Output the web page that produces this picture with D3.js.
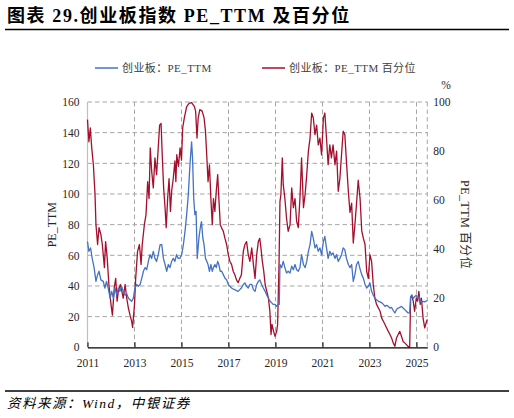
<!DOCTYPE html>
<html>
<head>
<meta charset="utf-8">
<script src="https://cdn.jsdelivr.net/npm/d3@7/dist/d3.min.js"></script>
<style>
  body { margin: 0; background: #fff; }
  svg { display: block; }
  .serif { font-family: "Liberation Serif", "Noto Sans CJK SC", serif; }
</style>
</head>
<body>
<div id="chart"></div>
<script>
// 创业板 PE_TTM (left axis)
const peDates = [
  2011.00, 2011.06, 2011.13, 2011.20, 2011.28, 2011.36, 2011.43, 2011.49, 2011.57, 2011.67,
  2011.74, 2011.81, 2011.88, 2011.96, 2012.03, 2012.10, 2012.17, 2012.24, 2012.31, 2012.38,
  2012.45, 2012.52, 2012.60, 2012.67, 2012.74, 2012.81, 2012.88, 2012.95, 2013.02, 2013.09,
  2013.16, 2013.24, 2013.31, 2013.38, 2013.45, 2013.52, 2013.59, 2013.66, 2013.73, 2013.80,
  2013.87, 2013.94, 2014.01, 2014.09, 2014.16, 2014.23, 2014.30, 2014.37, 2014.44, 2014.51,
  2014.58, 2014.65, 2014.72, 2014.79, 2014.86, 2014.93, 2015.01, 2015.08, 2015.15, 2015.22,
  2015.29, 2015.36, 2015.43, 2015.47, 2015.52, 2015.57, 2015.62, 2015.67, 2015.74, 2015.80,
  2015.85, 2015.91, 2015.96, 2016.02, 2016.08, 2016.13, 2016.19, 2016.25, 2016.31, 2016.36,
  2016.42, 2016.48, 2016.54, 2016.59, 2016.65, 2016.71, 2016.78, 2016.85, 2016.92, 2016.99,
  2017.06, 2017.13, 2017.20, 2017.27, 2017.34, 2017.41, 2017.48, 2017.55, 2017.63, 2017.70,
  2017.77, 2017.84, 2017.91, 2017.99, 2018.06, 2018.13, 2018.20, 2018.27, 2018.33, 2018.41,
  2018.48, 2018.56, 2018.63, 2018.70, 2018.77, 2018.84, 2018.90, 2018.98, 2019.05, 2019.12,
  2019.16, 2019.19, 2019.26, 2019.33, 2019.40, 2019.47, 2019.54, 2019.62, 2019.69, 2019.76,
  2019.83, 2019.90, 2019.97, 2020.04, 2020.11, 2020.19, 2020.26, 2020.33, 2020.40, 2020.47,
  2020.54, 2020.61, 2020.68, 2020.75, 2020.82, 2020.89, 2020.96, 2021.04, 2021.10, 2021.17,
  2021.24, 2021.31, 2021.38, 2021.45, 2021.53, 2021.60, 2021.67, 2021.74, 2021.81, 2021.88,
  2021.95, 2022.02, 2022.10, 2022.17, 2022.24, 2022.31, 2022.38, 2022.45, 2022.52, 2022.60,
  2022.67, 2022.74, 2022.81, 2022.88, 2022.95, 2023.02, 2023.09, 2023.16, 2023.23, 2023.30,
  2023.38, 2023.45, 2023.52, 2023.59, 2023.66, 2023.73, 2023.80, 2023.87, 2023.94, 2024.01,
  2024.08, 2024.15, 2024.22, 2024.29, 2024.36, 2024.43, 2024.50, 2024.57, 2024.64, 2024.71,
  2024.75, 2024.80, 2024.86, 2024.92, 2024.99, 2025.05, 2025.10, 2025.16, 2025.21, 2025.28,
  2025.35, 2025.43, 2025.46
];
const peValues = [
  69, 62.6, 64.8, 58, 52, 43, 47.4, 49.6, 44, 43,
  38.7, 43, 38.7, 32, 36.5, 32, 38.7, 34, 38.7, 36.5,
  39.8, 36.5, 34, 35, 32, 31, 30, 32, 38.7, 41,
  39.8, 41, 45, 49.6, 52, 50.6, 56, 60.4, 58, 62.6,
  58, 56, 60.4, 67, 67, 58, 54, 49.6, 54, 52,
  56, 58, 56, 60.4, 58, 58, 60.4, 67, 75.6, 86.5,
  99.6, 119, 134, 123.5, 97, 86.5, 88.7, 58, 71, 78,
  82, 71, 67, 58, 56, 54, 49.6, 54, 49.6, 52,
  54, 52, 56, 54, 49.6, 49.6, 47.4, 45, 44, 41,
  39.8, 38.7, 38, 37.6, 37, 36.5, 37.6, 38.7, 41, 42,
  39.8, 38.7, 41, 41, 37.6, 36.5, 41, 43, 44, 41,
  38.7, 36.5, 34, 32, 30, 29, 28, 28, 26.7, 28,
  28, 54, 52, 56, 52, 48.5, 49.6, 48.5, 53, 50.6,
  54, 50.6, 49.6, 52, 60.4, 54, 52, 56, 62.6, 67,
  75.6, 71, 64.8, 67, 62.6, 64.8, 60.4, 69, 72.4, 64.8,
  58, 62.6, 60.4, 61.5, 58, 60.4, 56, 58, 60.4, 64.8,
  63.7, 58, 54, 52, 54, 43, 47.4, 54, 56, 51,
  47.4, 45, 41, 38.7, 39.8, 42, 36.5, 34, 32, 31,
  30, 29.6, 29, 28, 26.7, 27.4, 26.7, 25.6, 26, 24,
  22.4, 24.6, 25.6, 26, 26.7, 25.6, 24.6, 23.5, 22.4, 22.4,
  33, 34, 32, 33, 34, 32, 33, 31, 29, 30,
  29.6, 30.4, 30.4
];

// 创业板 PE_TTM 百分位 (right axis, %)
const pctDates = [
  2011.00, 2011.06, 2011.12, 2011.18, 2011.25, 2011.32, 2011.36, 2011.43, 2011.49, 2011.57,
  2011.63, 2011.72, 2011.77, 2011.83, 2011.91, 2012.00, 2012.06, 2012.14, 2012.20, 2012.26,
  2012.31, 2012.40, 2012.45, 2012.52, 2012.60, 2012.67, 2012.74, 2012.81, 2012.88, 2012.92,
  2013.00, 2013.05, 2013.13, 2013.21, 2013.28, 2013.33, 2013.42, 2013.49, 2013.56, 2013.62,
  2013.67, 2013.73, 2013.80, 2013.87, 2013.94, 2014.01, 2014.07, 2014.13, 2014.18, 2014.24,
  2014.30, 2014.35, 2014.41, 2014.47, 2014.53, 2014.58, 2014.65, 2014.72, 2014.76, 2014.80,
  2014.87, 2014.94, 2015.00, 2015.05, 2015.12, 2015.22, 2015.32, 2015.43, 2015.55, 2015.60,
  2015.66, 2015.71, 2015.78, 2015.88, 2015.96, 2016.02, 2016.08, 2016.13, 2016.19, 2016.25,
  2016.31, 2016.36, 2016.42, 2016.48, 2016.54, 2016.59, 2016.65, 2016.71, 2016.78, 2016.85,
  2016.92, 2016.99, 2017.06, 2017.13, 2017.20, 2017.27, 2017.34, 2017.41, 2017.48, 2017.55,
  2017.63, 2017.70, 2017.77, 2017.84, 2017.91, 2017.99, 2018.06, 2018.13, 2018.20, 2018.27,
  2018.33, 2018.38, 2018.44, 2018.50, 2018.56, 2018.63, 2018.70, 2018.76, 2018.81, 2018.85,
  2018.92, 2018.98, 2019.05, 2019.09, 2019.15, 2019.19, 2019.23, 2019.29, 2019.33, 2019.40,
  2019.47, 2019.54, 2019.62, 2019.69, 2019.76, 2019.83, 2019.90, 2019.97, 2020.04, 2020.11,
  2020.19, 2020.26, 2020.33, 2020.40, 2020.47, 2020.54, 2020.61, 2020.68, 2020.75, 2020.82,
  2020.89, 2020.96, 2021.04, 2021.10, 2021.17, 2021.24, 2021.31, 2021.38, 2021.45, 2021.53,
  2021.60, 2021.67, 2021.74, 2021.81, 2021.88, 2021.95, 2022.02, 2022.10, 2022.17, 2022.24,
  2022.31, 2022.38, 2022.45, 2022.52, 2022.60, 2022.67, 2022.74, 2022.81, 2022.88, 2022.95,
  2023.02, 2023.09, 2023.16, 2023.23, 2023.30, 2023.38, 2023.45, 2023.52, 2023.59, 2023.66,
  2023.73, 2023.80, 2023.87, 2023.94, 2024.01, 2024.08, 2024.15, 2024.22, 2024.29, 2024.36,
  2024.43, 2024.50, 2024.57, 2024.64, 2024.71, 2024.75, 2024.80, 2024.86, 2024.92, 2024.99,
  2025.05, 2025.10, 2025.16, 2025.21, 2025.28, 2025.35, 2025.43, 2025.46
];
const pctValues = [
  92.8, 83.8, 89.4, 81.3, 74.4, 62.3, 50, 41.9, 48.8, 45.9,
  41.9, 32.5, 43.1, 37.5, 25.6, 17.5, 13.1, 24.4, 28.1, 18.8,
  22.8, 25.6, 23.5, 20, 25.6, 20, 16, 13.1, 10.6, 8.1,
  17.5, 28.1, 39.1, 41.9, 33.8, 41.9, 50, 54.1, 67.5, 60.6,
  81.3, 71.9, 65, 77.2, 70.4, 81.3, 90.6, 91.3, 78.5, 65,
  56.9, 48.8, 60.6, 68.8, 55.4, 63.6, 68.8, 76, 67.5, 78.5,
  73.8, 81.3, 76.3, 89.4, 93.5, 98.1, 99.4, 99.7, 98.1, 96.3,
  85.3, 93.5, 96.9, 96.3, 93.5, 88.1, 77.2, 67.5, 74.4, 60.6,
  50, 60.6, 55.4, 63.6, 70.4, 60.6, 50, 48.6, 47.3, 44.4,
  41.9, 37.8, 35, 33.8, 31, 29.6, 27.5, 26.3, 28.1, 29.6,
  39.1, 41.9, 43.1, 37.8, 35, 40.5, 33.8, 28.1, 37.8, 43.1,
  44.4, 40.5, 35, 31, 25.6, 22.8, 20, 14.7, 5.2, 9.3,
  6.5, 4.5, 6.5, 9.3, 33.8, 59.4, 62.3, 77.2, 66.3, 60.6,
  52.5, 47.3, 50, 65, 56.9, 60.6, 51.3, 48.8, 60.6, 77.2,
  56.9, 62.3, 70.4, 80, 85.3, 95.5, 93.5, 86.7, 90.6, 82.5,
  85.3, 78.5, 93.5, 95.5, 85.3, 74.4, 82.5, 77.2, 82.5, 74.4,
  80, 63.6, 68.8, 78.5, 88.1, 86.7, 75.6, 63.6, 55, 58.8,
  42.5, 50, 58.8, 68.1, 60.6, 47.5, 44.4, 41.9, 31, 28.1,
  37.8, 35, 25.6, 20, 17.5, 16, 14.7, 11.9, 10.6, 9.3,
  7.9, 6.5, 5.2, 3.8, 1.8, 0.4, 3.8, 5.2, 6.5, 4.5,
  2.4, 1.8, 1.1, 0.4, 0, 20, 21.3, 18.8, 14.7, 20,
  18.8, 22.8, 17.5, 20, 11.9, 7.9, 10.6, 11.3
];

const yearTicks = [2011, 2013, 2015, 2017, 2019, 2021, 2023, 2025];
const leftTicks = [0, 20, 40, 60, 80, 100, 120, 140, 160];
const rightTicks = [0, 20, 40, 60, 80, 100];

const W = 514, H = 418;
const margin = { left: 87.5, right: 514 - 427.3, top: 102, bottom: 418 - 347.3 };
const x0 = margin.left, x1 = W - margin.right, y0 = H - margin.bottom, y1 = margin.top;

const blue = '#4472c4', red = '#a50f2d', grid = '#a6a6a6', txt = '#262626';

const svg = d3.select('#chart').append('svg')
  .attr('width', W).attr('height', H)
  .attr('class', 'serif');

// title
svg.append('text')
  .attr('x', 7).attr('y', 22)
  .attr('font-size', 18).attr('font-weight', 'bold')
  .attr('letter-spacing', 1.6)
  .attr('fill', '#000')
  .text('图表 29.创业板指数 PE_TTM 及百分位');
svg.append('line')
  .attr('x1', 5).attr('x2', 509).attr('y1', 29.5).attr('y2', 29.5)
  .attr('stroke', '#000').attr('stroke-width', 1.3);

const x = d3.scaleLinear().domain([2011, 2025.46]).range([x0, x1]);
const yL = d3.scaleLinear().domain([0, 160]).range([y0, y1]);
const yR = d3.scaleLinear().domain([0, 100]).range([y0, y1]);

// gridlines
const g = svg.append('g');
g.selectAll('.hg').data(leftTicks.slice(1)).join('line')
  .attr('x1', x0).attr('x2', x1)
  .attr('y1', d => yL(d)).attr('y2', d => yL(d))
  .attr('stroke', grid).attr('stroke-width', 1).attr('stroke-dasharray', '4.5,3');
g.selectAll('.vg').data(yearTicks.slice(1).concat([2025.46])).join('line')
  .attr('x1', d => x(d)).attr('x2', d => x(d))
  .attr('y1', y1).attr('y2', y0)
  .attr('stroke', grid).attr('stroke-width', 1).attr('stroke-dasharray', '4.5,3');

// left axis line
svg.append('line')
  .attr('x1', x0).attr('x2', x0).attr('y1', y1).attr('y2', y0)
  .attr('stroke', '#bfbfbf').attr('stroke-width', 1.2);

// series
const linePE = d3.line().x((d, i) => x(peDates[i])).y(d => yL(d));
const linePct = d3.line().x((d, i) => x(pctDates[i])).y(d => yR(d));

svg.append('path').datum(pctValues)
  .attr('d', linePct).attr('fill', 'none')
  .attr('stroke', red).attr('stroke-width', 1.3).attr('stroke-linejoin', 'round');
svg.append('path').datum(peValues)
  .attr('d', linePE).attr('fill', 'none')
  .attr('stroke', blue).attr('stroke-width', 1.3).attr('stroke-linejoin', 'round');

// bottom axis
const xAxis = d3.axisBottom(x).tickValues(yearTicks).tickFormat(d3.format('d'))
  .tickSizeInner(-5).tickSizeOuter(0).tickPadding(12);
const xa = svg.append('g').attr('transform', `translate(0,${y0})`).call(xAxis);
xa.select('.domain').attr('stroke', '#000').attr('stroke-width', 1.3);
xa.selectAll('.tick line').attr('stroke', '#000');
xa.selectAll('text').attr('font-size', 11.5).attr('fill', txt)
  .attr('font-family', '"Liberation Serif", serif');

// left tick labels
const ya = svg.append('g').attr('transform', `translate(${x0},0)`)
  .call(d3.axisLeft(yL).tickValues(leftTicks).tickSize(0).tickPadding(8));
ya.select('.domain').remove();
ya.selectAll('text').attr('font-size', 11.5).attr('fill', txt)
  .attr('font-family', '"Liberation Serif", serif');

// right tick labels
const yra = svg.append('g').attr('transform', `translate(${x1},0)`)
  .call(d3.axisRight(yR).tickValues(rightTicks).tickSize(0).tickPadding(6));
yra.select('.domain').remove();
yra.selectAll('text').attr('font-size', 11.5).attr('fill', txt)
  .attr('font-family', '"Liberation Serif", serif');

svg.append('text').attr('x', 446).attr('y', 89)
  .attr('text-anchor', 'middle').attr('font-size', 11.5).attr('fill', txt)
  .text('%');

// axis titles
svg.append('text')
  .attr('transform', `translate(56,${(y0 + y1) / 2}) rotate(-90)`)
  .attr('text-anchor', 'middle').attr('font-size', 12).attr('fill', txt)
  .text('PE_TTM');
svg.append('text')
  .attr('transform', `translate(461,${(y0 + y1) / 2}) rotate(90)`)
  .attr('text-anchor', 'middle').attr('font-size', 12).attr('fill', txt)
  .attr('letter-spacing', 0.5)
  .text('PE_TTM 百分位');

// legend
const legend = [
  { label: '创业板：PE_TTM', color: blue, x: 95 },
  { label: '创业板：PE_TTM 百分位', color: red, x: 262 }
];
const lg = svg.append('g').selectAll('g').data(legend).join('g')
  .attr('transform', d => `translate(${d.x},68)`);
lg.append('line').attr('x1', 0).attr('x2', 23).attr('y1', 0).attr('y2', 0)
  .attr('stroke', d => d.color).attr('stroke-width', 1.5);
lg.append('text').attr('x', 27).attr('y', 4)
  .attr('font-size', 11).attr('fill', '#404040')
  .attr('letter-spacing', 0.4)
  .text(d => d.label);

// footer
svg.append('line')
  .attr('x1', 5).attr('x2', 509).attr('y1', 391).attr('y2', 391)
  .attr('stroke', '#000').attr('stroke-width', 1.3);
svg.append('text')
  .attr('x', 7).attr('y', 408)
  .attr('font-size', 13.5).attr('font-style', 'italic').attr('fill', '#000')
  .attr('letter-spacing', 1.5)
  .text('资料来源：Wind，中银证券');
</script>
</body>
</html>
